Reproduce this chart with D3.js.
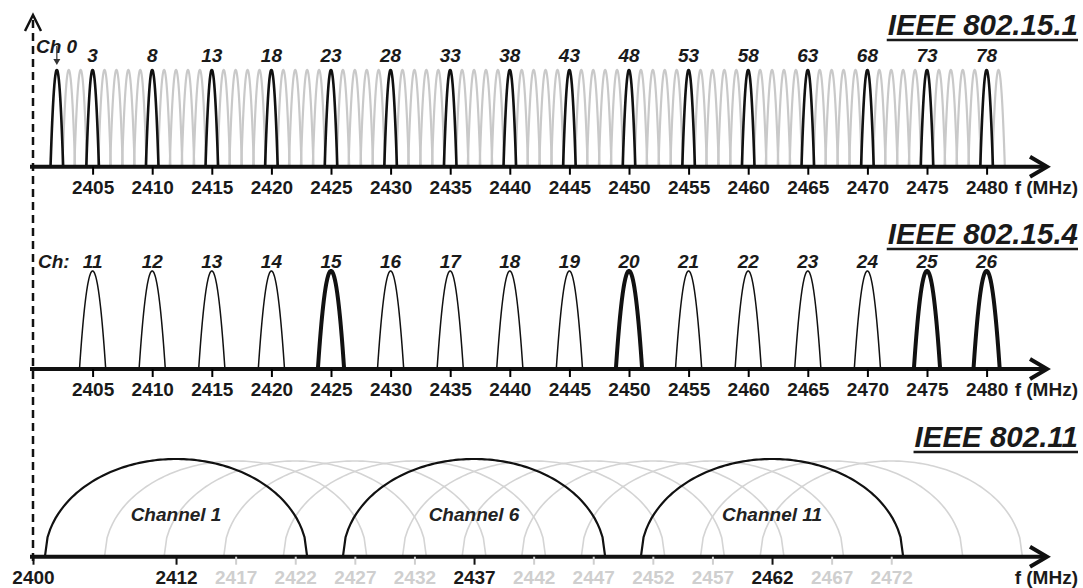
<!DOCTYPE html>
<html>
<head>
<meta charset="utf-8">
<script src="https://cdn.jsdelivr.net/npm/d3@7.9.0/dist/d3.min.js"></script>
<style>
  html, body { margin: 0; padding: 0; background: #fff; }
  svg { display: block; font-family: "Liberation Sans", Arial, sans-serif; }
  .tick text { font-size: 19px; font-weight: bold; }
</style>
</head>
<body>
<div id="chart"></div>
<script>
// ---- data ----
// IEEE 802.15.1 (Bluetooth): channel k at 2402 + k MHz (79 is the faint edge lobe)
const btChannels = d3.range(0, 80);
const btLabeled = [0, 3, 8, 13, 18, 23, 28, 33, 38, 43, 48, 53, 58, 63, 68, 73, 78];

// IEEE 802.15.4
const zbChannels = [11, 12, 13, 14, 15, 16, 17, 18, 19, 20, 21, 22, 23, 24, 25, 26];
const zbFreqs = [2405, 2410, 2415, 2420, 2425, 2430, 2435, 2440, 2445, 2450, 2455, 2460, 2465, 2470, 2475, 2480];
const zbBold = [15, 20, 25, 26];

// IEEE 802.11
const wifiChannels = [1, 2, 3, 4, 5, 6, 7, 8, 9, 10, 11, 12, 13];
const wifiFreqs = [2412, 2417, 2422, 2427, 2432, 2437, 2442, 2447, 2452, 2457, 2462, 2467, 2472];
const wifiBold = [1, 6, 11];

// axis ticks
const bandTicks = [2405, 2410, 2415, 2420, 2425, 2430, 2435, 2440, 2445, 2450, 2455, 2460, 2465, 2470, 2475, 2480];
const wifiTicks = [2400, 2412, 2417, 2422, 2427, 2432, 2437, 2442, 2447, 2452, 2457, 2462, 2467, 2472];
const wifiBoldTicks = [2400, 2412, 2437, 2462];

const width = 1083, height = 588;
const black = "#111", grey = "#c9c9c9";

const svg = d3.select("#chart").append("svg")
  .attr("width", width)
  .attr("height", height);

const x = d3.scaleLinear().domain([2400, 2480]).range([33, 986.6]);

// panels: baseline and peak top
const panels = {
  bt:   { base: 166.7, top: 70 },
  zb:   { base: 369,   top: 271 },
  wifi: { base: 556.7, top: 459 }
};

const samples = d3.range(-1, 1.0001, 0.02);

function lobe(center, half, y, shape) {
  const pts = samples.map(t => {
    const a = shape === "ellipse" ? Math.sqrt(Math.max(0, 1 - t * t)) : 1 - t * t;
    return [x(center + t * half), y(a)];
  });
  return d3.line()(pts);
}

function drawAxis(p, ticks) {
  const g = svg.append("g");
  g.append("line")
    .attr("x1", 30).attr("x2", 1044)
    .attr("y1", p.base).attr("y2", p.base)
    .attr("stroke", black).attr("stroke-width", 4);
  g.append("path")
    .attr("d", `M1030,${p.base - 10}L1047,${p.base}L1030,${p.base + 10}`)
    .attr("fill", "none").attr("stroke", black)
    .attr("stroke-width", 4).attr("stroke-linejoin", "miter");
  const ax = svg.append("g")
    .attr("transform", `translate(0,${p.base})`)
    .call(d3.axisBottom(x).tickValues(ticks).tickSize(8).tickPadding(6).tickFormat(d3.format("d")));
  ax.select(".domain").remove();
  ax.selectAll(".tick line").attr("stroke-width", 2);
  ax.selectAll(".tick text").attr("fill", "#1a1a1a");
  svg.append("text")
    .attr("x", 1078).attr("y", p.base + 27)
    .attr("text-anchor", "end")
    .attr("font-size", 19).attr("font-weight", "bold")
    .attr("fill", "#1a1a1a")
    .text("f (MHz)");
  return ax;
}

function drawTitle(label, baseline) {
  const t = svg.append("text")
    .attr("x", 1078).attr("y", baseline)
    .attr("text-anchor", "end")
    .attr("font-size", 29.5).attr("font-weight", "bold").attr("font-style", "italic")
    .attr("fill", "#1a1a1a")
    .text(label);
  const w = t.node().getComputedTextLength();
  svg.append("line")
    .attr("x1", 1078 - w - 1).attr("x2", 1078)
    .attr("y1", baseline + 5).attr("y2", baseline + 5)
    .attr("stroke", "#1a1a1a").attr("stroke-width", 2.5);
}

// ---- IEEE 802.15.1 ----
{
  const p = panels.bt;
  const y = d3.scaleLinear().domain([0, 1]).range([p.base, p.top]);
  svg.append("g").selectAll("path")
    .data(btChannels.filter(c => !btLabeled.includes(c)))
    .join("path")
    .attr("d", c => lobe(2402 + c, 0.53, y, "parabola"))
    .attr("fill", "none").attr("stroke", grey).attr("stroke-width", 2.2);
  svg.append("g").selectAll("path")
    .data(btLabeled)
    .join("path")
    .attr("d", c => lobe(2402 + c, 0.53, y, "parabola"))
    .attr("fill", "none").attr("stroke", black).attr("stroke-width", 2.6);
  drawAxis(p, bandTicks);
  svg.append("g").selectAll("text")
    .data(btLabeled.filter(c => c !== 0))
    .join("text")
    .attr("x", c => x(2402 + c))
    .attr("y", 61.5)
    .attr("text-anchor", "middle")
    .attr("font-size", 19).attr("font-weight", "bold").attr("font-style", "italic")
    .attr("fill", "#1a1a1a")
    .text(c => c);
  svg.append("text")
    .attr("x", 36).attr("y", 53)
    .attr("font-size", 19).attr("font-weight", "bold").attr("font-style", "italic")
    .attr("fill", "#1a1a1a")
    .text("Ch 0");
  const cx = x(2402);
  svg.append("line")
    .attr("x1", cx).attr("x2", cx).attr("y1", 46).attr("y2", 60)
    .attr("stroke", "#333").attr("stroke-width", 1.2);
  svg.append("path")
    .attr("d", `M${cx - 3.5},59L${cx + 3.5},59L${cx},65Z`)
    .attr("fill", "#333");
  drawTitle("IEEE 802.15.1", 35);
}

// ---- IEEE 802.15.4 ----
{
  const p = panels.zb;
  const y = d3.scaleLinear().domain([0, 1]).range([p.base, p.top]);
  svg.append("g").selectAll("path")
    .data(zbChannels)
    .join("path")
    .attr("d", (c, i) => lobe(zbFreqs[i], 1.1, y, "parabola"))
    .attr("fill", "none").attr("stroke", black)
    .attr("stroke-width", c => zbBold.includes(c) ? 4 : 1.5);
  drawAxis(p, bandTicks);
  svg.append("g").selectAll("text")
    .data(zbChannels)
    .join("text")
    .attr("x", (c, i) => x(zbFreqs[i]))
    .attr("y", 267.5)
    .attr("text-anchor", "middle")
    .attr("font-size", 19).attr("font-weight", "bold").attr("font-style", "italic")
    .attr("fill", "#1a1a1a")
    .text(c => c);
  svg.append("text")
    .attr("x", 38).attr("y", 267.5)
    .attr("font-size", 19).attr("font-weight", "bold").attr("font-style", "italic")
    .attr("fill", "#1a1a1a")
    .text("Ch:");
  drawTitle("IEEE 802.15.4", 244);
}

// ---- IEEE 802.11 ----
{
  const p = panels.wifi;
  const y = d3.scaleLinear().domain([0, 1]).range([p.base, p.top]);
  const yg = d3.scaleLinear().domain([0, 1]).range([p.base, p.top + 2]);
  svg.append("g").selectAll("path")
    .data(wifiChannels.filter(c => !wifiBold.includes(c)))
    .join("path")
    .attr("d", c => lobe(wifiFreqs[c - 1], 11, yg, "ellipse"))
    .attr("fill", "none").attr("stroke", "#d4d4d4").attr("stroke-width", 1.6);
  svg.append("g").selectAll("path")
    .data(wifiBold)
    .join("path")
    .attr("d", c => lobe(wifiFreqs[c - 1], 11, y, "ellipse"))
    .attr("fill", "none").attr("stroke", black).attr("stroke-width", 2.2);
  const ax = drawAxis(p, wifiTicks);
  ax.selectAll(".tick").each(function(d) {
    const on = wifiBoldTicks.includes(d);
    d3.select(this).select("line").attr("stroke", on ? black : "#cfcfcf");
    d3.select(this).select("text").attr("fill", on ? "#1a1a1a" : "#cfcfcf");
  });
  svg.append("g").selectAll("text")
    .data(wifiBold)
    .join("text")
    .attr("x", c => x(wifiFreqs[c - 1]))
    .attr("y", 521)
    .attr("text-anchor", "middle")
    .attr("font-size", 19).attr("font-weight", "bold").attr("font-style", "italic")
    .attr("fill", "#222")
    .text(c => "Channel " + c);
  drawTitle("IEEE 802.11", 447);
}

// ---- dashed frequency origin line with arrowhead ----
svg.append("line")
  .attr("x1", x(2400)).attr("x2", x(2400))
  .attr("y1", 20).attr("y2", 562)
  .attr("stroke", black).attr("stroke-width", 2.5)
  .attr("stroke-dasharray", "8,5");
svg.append("path")
  .attr("d", `M${x(2400) - 8},31L${x(2400)},15L${x(2400) + 8},31`)
  .attr("fill", "none").attr("stroke", black).attr("stroke-width", 2.5);
</script>
</body>
</html>
